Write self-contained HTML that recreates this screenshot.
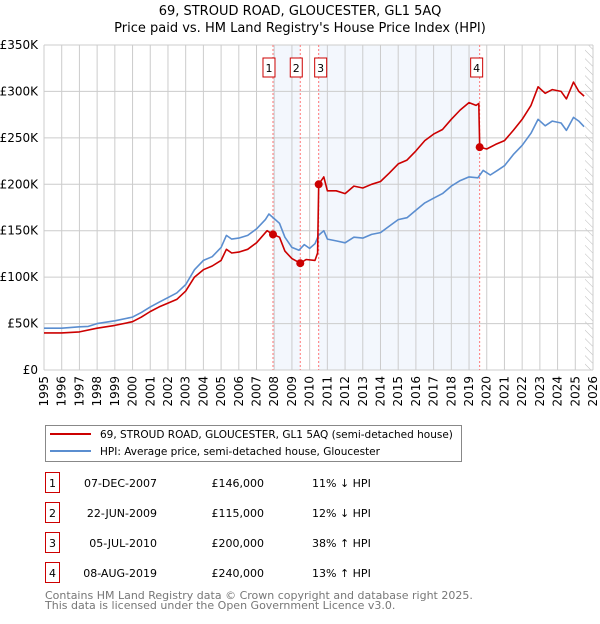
<!DOCTYPE html>
<html><head><meta charset="utf-8"><style>
body{margin:0;background:#fff;font-family:"DejaVu Sans","Liberation Sans",sans-serif;}
svg text{font-family:"DejaVu Sans","Liberation Sans",sans-serif;}
</style></head><body>
<svg id="c" width="600" height="620" viewBox="0 0 600 620" xmlns="http://www.w3.org/2000/svg">
<text x="300" y="15" text-anchor="middle" font-size="13">69, STROUD ROAD, GLOUCESTER, GL1 5AQ</text>
<text x="300" y="32" text-anchor="middle" font-size="13">Price paid vs. HM Land Registry's House Price Index (HPI)</text>
<defs><pattern id="hatch" width="6" height="6" patternUnits="userSpaceOnUse" patternTransform="rotate(-45)"><line x1="0" y1="0" x2="0" y2="6" stroke="#bbb" stroke-width="1"/></pattern></defs>
<g id="plot"></g>
<g>
<rect x="45.5" y="425.5" width="416" height="36" fill="#fff" stroke="#888"/>
<line x1="50" y1="434" x2="91" y2="434" stroke="#cc0000" stroke-width="2"/>
<text x="100" y="438" font-size="10.5">69, STROUD ROAD, GLOUCESTER, GL1 5AQ (semi-detached house)</text>
<line x1="50" y1="451" x2="91" y2="451" stroke="#5b8ed0" stroke-width="2"/>
<text x="100" y="455" font-size="10.5">HPI: Average price, semi-detached house, Gloucester</text>
</g>
<g id="table" font-size="11"></g>
<text x="45" y="599" font-size="11" fill="#777">Contains HM Land Registry data © Crown copyright and database right 2025.</text>
<text x="45" y="609" font-size="11" fill="#777">This data is licensed under the Open Government Licence v3.0.</text>
</svg>
<script>
const hpiYears=[1995,1996,1997,1997.5,1998,1999,2000,2000.5,2001,2001.5,2002,2002.5,2003,2003.5,2004,2004.5,2005,2005.3,2005.6,2006,2006.5,2007,2007.5,2007.7,2008,2008.3,2008.6,2009,2009.4,2009.7,2010,2010.3,2010.5,2010.8,2011,2011.5,2012,2012.5,2013,2013.5,2014,2014.5,2015,2015.5,2016,2016.5,2017,2017.5,2018,2018.5,2019,2019.5,2019.8,2020.2,2020.6,2021,2021.5,2022,2022.5,2022.9,2023.3,2023.7,2024.2,2024.5,2024.9,2025.2,2025.5];
const hpiValues=[45,45,46.5,47,50,53,57,62,68,73,78,83,92,108,118,122,132,145,141,142,145,152,162,168,163,158,143,132,129,135,131,136,145,150,141,139,137,143,142,146,148,155,162,164,172,180,185,190,198,204,208,207,215,210,215,220,232,242,255,270,263,268,266,258,272,268,262];
const propYears=[1995,1996,1997,1998,1999,2000,2000.5,2001,2001.5,2002,2002.5,2003,2003.5,2004,2004.5,2005,2005.3,2005.6,2006,2006.5,2007,2007.6,2007.93,2008.3,2008.6,2009,2009.47,2009.8,2010.3,2010.45,2010.51,2010.8,2011,2011.5,2012,2012.5,2013,2013.5,2014,2014.5,2015,2015.5,2016,2016.5,2017,2017.5,2018,2018.5,2019,2019.4,2019.55,2019.6,2020,2020.5,2021,2021.5,2022,2022.5,2022.9,2023.3,2023.7,2024.2,2024.5,2024.9,2025.2,2025.5];
const propValues=[40,40,41,45,48,52,57,63,68,72,76,85,100,108,112,118,130,126,127,130,137,150,146,143,128,120,115,119,118,126,200,208,193,193,190,198,196,200,203,212,222,226,236,247,254,259,270,280,288,285,287,240,238,243,247,258,270,285,305,298,302,300,292,310,300,295];
const saleLabels=["1","2","3","4"];
const saleYears=[2007.93,2009.47,2010.51,2019.6];
const salePrices=[146,115,200,240];
const saleDates=["07-DEC-2007","22-JUN-2009","05-JUL-2010","08-AUG-2019"];
const salePriceText=["£146,000","£115,000","£200,000","£240,000"];
const saleHpiText=["11% ↓ HPI","12% ↓ HPI","38% ↑ HPI","13% ↑ HPI"];
const yTicks=[0,50,100,150,200,250,300,350];
const yTickLabels=["£0","£50K","£100K","£150K","£200K","£250K","£300K","£350K"];
const xTicks=[1995,1996,1997,1998,1999,2000,2001,2002,2003,2004,2005,2006,2007,2008,2009,2010,2011,2012,2013,2014,2015,2016,2017,2018,2019,2020,2021,2022,2023,2024,2025,2026];

const NS="http://www.w3.org/2000/svg";
const L=44,R=593,T=45,B=370;
const X=y=>L+(y-1995)/(2026-1995)*(R-L);
const Y=v=>B-v/350*(B-T);
const plot=document.getElementById('plot');
function mk(tag,attrs,parent){const e=document.createElementNS(NS,tag);for(const k in attrs)e.setAttribute(k,attrs[k]);(parent||plot).appendChild(e);return e;}
let s=mk('rect',{x:X(saleYears[0]),y:T,width:X(saleYears[1])-X(saleYears[0]),height:B-T,fill:'#eef3fc',opacity:0.7});


s=mk('rect',{x:X(saleYears[2]),y:T,width:X(saleYears[3])-X(saleYears[2]),height:B-T,fill:'#eef3fc',opacity:0.7});


s=mk('rect',{x:X(2025.55),y:T,width:R-X(2025.55),height:B-T,fill:'url(#hatch)'});


xTicks.forEach((t,i)=>{
 const g=mk('line',{x1:X(t),x2:X(t),y1:T,y2:B,stroke:'#ccc','stroke-width':1});
 
 
 const tx=mk('text',{x:0,y:0,'font-size':12,'text-anchor':'end',transform:`translate(${X(t)+4},${B+6}) rotate(-90)`});
 tx.textContent=t;
 
 
});
yTicks.forEach((t,i)=>{
 const g=mk('line',{x1:L,x2:R,y1:Y(t),y2:Y(t),stroke:'#ccc','stroke-width':1});
 
 
 const tx=mk('text',{x:L-6,y:Y(t)+4,'font-size':12,'text-anchor':'end'});
 tx.textContent=yTickLabels[i];
 
 
});
saleYears.forEach((y,i)=>{
 const v=mk('line',{x1:X(y),x2:X(y),y1:T,y2:B,stroke:'#f77','stroke-width':1,'stroke-dasharray':'2,2'});
 
 
 const bx=X(y)-(i==3?3:(i==2?-2:4))-6;
 const r=mk('rect',{x:bx,y:58,width:12,height:19,fill:'#fff',stroke:'#cc0000'});
 
 
 const t=mk('text',{x:bx+6,y:72,'font-size':11,'text-anchor':'middle'});
 t.textContent=saleLabels[i];
 
 
});
function line(xs,vs,col,name){
 const p=mk('polyline',{points:xs.map((x,i)=>X(x).toFixed(1)+','+Y(vs[i]).toFixed(1)).join(' '),fill:'none',stroke:col,'stroke-width':1.6,'stroke-linejoin':'round'});
 
 
}
line(hpiYears,hpiValues,'#5b8ed0','hpi-line');
line(propYears,propValues,'#cc0000','property-line');
saleYears.forEach((y,i)=>{
 const c=mk('circle',{cx:X(y),cy:Y(salePrices[i]),r:4,fill:'#cc0000'});
 
 
});
const tb=document.getElementById('table');
saleLabels.forEach((l,i)=>{
 const y=483+i*30;
 const r=mk('rect',{x:45.5,y:y-10.5,width:14,height:20,fill:'#fff',stroke:'#cc0000'},tb);
 
 
 const cells=[[52.5,l,'middle'],[157,saleDates[i],'end'],[264,salePriceText[i],'end'],[312,saleHpiText[i],'start']];
 cells.forEach(c=>{
  const t=mk('text',{x:c[0],y:y+4,'text-anchor':c[2],'font-size':11},tb);
  t.textContent=c[1];
  
  
 });
});
</script>
</body></html>
